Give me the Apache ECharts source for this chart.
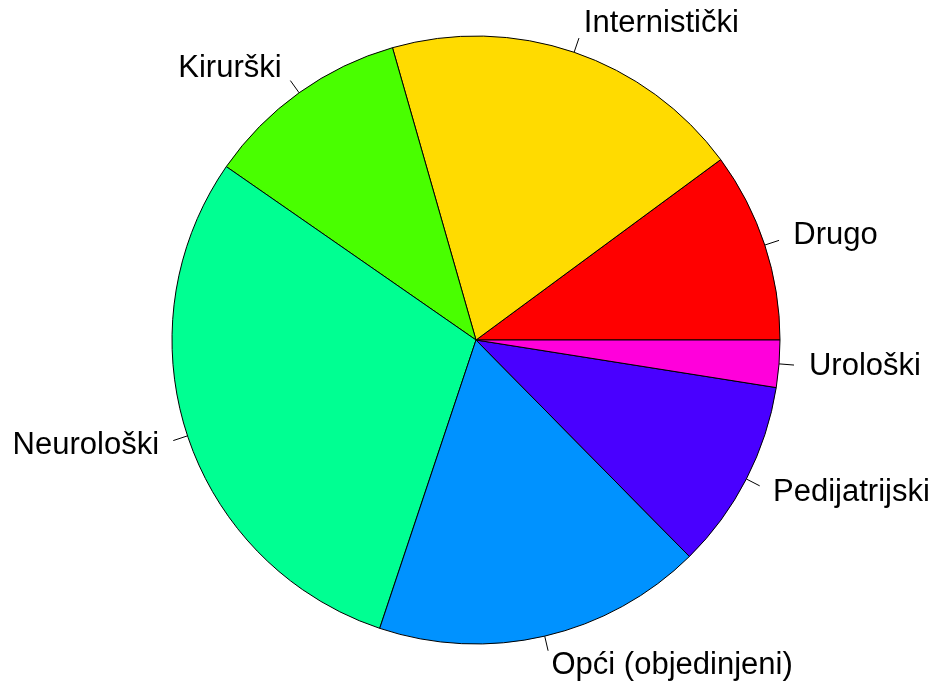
<!DOCTYPE html>
<html>
<head>
<meta charset="utf-8">
<script src="https://cdn.jsdelivr.net/npm/echarts@6/dist/echarts.min.js"></script>
<style>html,body{margin:0;padding:0;background:#fff;}#c{width:936px;height:682px;}</style>
</head>
<body>
<div id="c"></div>
<script>
const categories = ['Drugo', 'Internistički', 'Kirurški', 'Neurološki', 'Opći (objedinjeni)', 'Pedijatrijski', 'Urološki'];
const values = [10.1, 19.3, 10.9, 29.5, 17.5, 10.1, 2.5];
const colors = ['#FF0000', '#FFDB00', '#49FF00', '#00FF92', '#0092FF', '#4900FF', '#FF00DB'];

const common = {
  type: 'pie',
  center: [476, 340],
  radius: 304,
  startAngle: 0,
  clockwise: false,
  avoidLabelOverlap: false,
  labelLayout: { hideOverlap: false },
  emphasis: { disabled: true }
};

const chart = echarts.init(document.getElementById('c'));
chart.setOption({
  animation: false,
  backgroundColor: '#ffffff',
  series: [
    Object.assign({}, common, {
      name: 'slices',
      data: categories.map((c, i) => ({ name: c, value: values[i], itemStyle: { color: colors[i] } })),
      itemStyle: { borderColor: '#000', borderWidth: 1 },
      label: { show: true, position: 'outside', formatter: ' ', color: 'rgba(0,0,0,0)', fontSize: 1, distanceToLabelLine: 0 },
      labelLine: { show: true, length: 15, length2: 0, lineStyle: { color: '#000', width: 1 } }
    }),
    Object.assign({}, common, {
      name: 'labels',
      silent: true,
      data: categories.map((c, i) => ({ name: c, value: values[i] })),
      itemStyle: { color: 'rgba(0,0,0,0)', borderWidth: 0 },
      label: {
        show: true,
        position: 'outside',
        color: '#000',
        fontFamily: 'Liberation Sans, Arial, sans-serif',
        fontSize: 31,
        distanceToLabelLine: 0
      },
      labelLine: { show: false, length: 30, length2: 0 }
    })
  ]
});
</script>
</body>
</html>
